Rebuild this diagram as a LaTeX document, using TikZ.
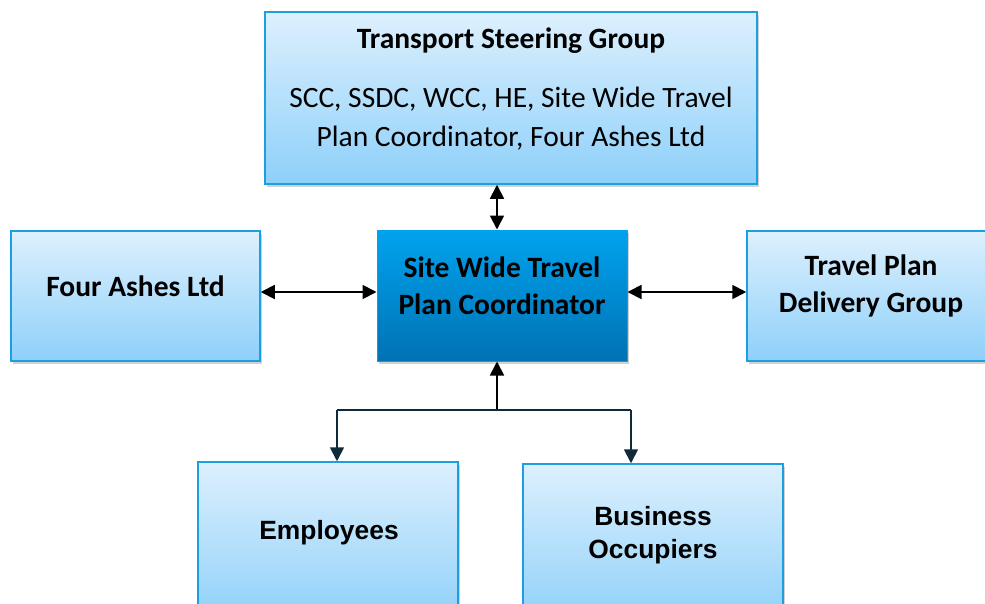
\documentclass[tikz,border=0pt]{standalone}
\usepackage{fontspec}
\setmainfont{Carlito}
\newfontfamily\arialfont{Liberation Sans}
\usepackage{tikz}
\usetikzlibrary{arrows.meta}
\usetikzlibrary{shadows}

\definecolor{boxline}{HTML}{1C9EE0}
\definecolor{lighttop}{HTML}{DDF0FD}
\definecolor{lightbottom}{HTML}{8ED0FA}
\definecolor{darktop}{HTML}{00A3EE}
\definecolor{darkbottom}{HTML}{0072B4}
\definecolor{branchline}{HTML}{0F2A3A}

\tikzset{
	lightbox/.style={draw=boxline,line width=1.5pt,top color=lighttop,bottom color=lightbottom,
		drop shadow={shadow xshift=2pt,shadow yshift=-3pt,opacity=0.3,fill=black!60}},
	darkbox/.style={draw=darktop,line width=1pt,top color=darktop,bottom color=darkbottom,
		drop shadow={shadow xshift=2pt,shadow yshift=-3pt,opacity=0.3,fill=black!60}},
	boxtext/.style={align=center,font=\fontsize{29.5}{37.5}\selectfont\bfseries},
	plaintext/.style={align=center,font=\fontsize{29.5}{39}\selectfont},
	arialtext/.style={align=center,font=\arialfont\fontsize{26.4}{33}\selectfont\bfseries},
	link/.style={line width=1.8pt}
}

\begin{document}
\begin{tikzpicture}[x=1pt,y=-1pt,>/.tip={Triangle[length=14pt,width=14pt]}]
	\useasboundingbox (0,0) rectangle (985,603);

	\draw (511,98) node (steering) [lightbox,minimum width=492,minimum height=172] {};
	\node (steeringtitle) [boxtext] at (511,41) {Transport Steering Group};
	\node (steeringmembers) [plaintext] at (511,119) {SCC, SSDC, WCC, HE, Site Wide Travel\\Plan Coordinator, Four Ashes Ltd};

	\draw (135.5,296) node (ashes) [lightbox,minimum width=249,minimum height=130] {};
	\node (ashestext) [boxtext] at (135.5,286) {Four Ashes Ltd};

	\draw (502,295.5) node (coord) [darkbox,minimum width=250,minimum height=131] {};
	\node (coordtext) [boxtext] at (502,286) {Site Wide Travel\\Plan Coordinator};

	\draw (872,296) node (delivery) [lightbox,minimum width=250,minimum height=130] {};
	\node (deliverytext) [boxtext] at (871,286) {Travel Plan\\Delivery Group};

	\draw (328,542) node (employees) [lightbox,minimum width=260,minimum height=160] {};
	\node (employeestext) [arialtext] at (329,533) {Employees};

	\draw (653,544) node (business) [lightbox,minimum width=260,minimum height=160] {};
	\node (businesstext) [arialtext] at (653,535) {Business\\Occupiers};

	% connectors
	\coordinate (mid) at (497,410);
	\coordinate (level) at (0,292);
	\coordinate (leftdrop) at (337,410);
	\coordinate (rightdrop) at (631,410);

	\draw[<->,link] (steering.south -| mid) -- (coord.north -| mid);
	\draw[<->,link] (ashes.east |- level) -- (coord.west |- level);
	\draw[<->,link] (coord.east |- level) -- (delivery.west |- level);

	\draw[->,link] (mid) -- (coord.south -| mid);
	\draw[branchline,link] (leftdrop) -- (rightdrop);
	\draw[->,branchline,link] (leftdrop) -- (leftdrop |- employees.north);
	\draw[->,branchline,link] (rightdrop) -- (rightdrop |- business.north);
\end{tikzpicture}
\end{document}
